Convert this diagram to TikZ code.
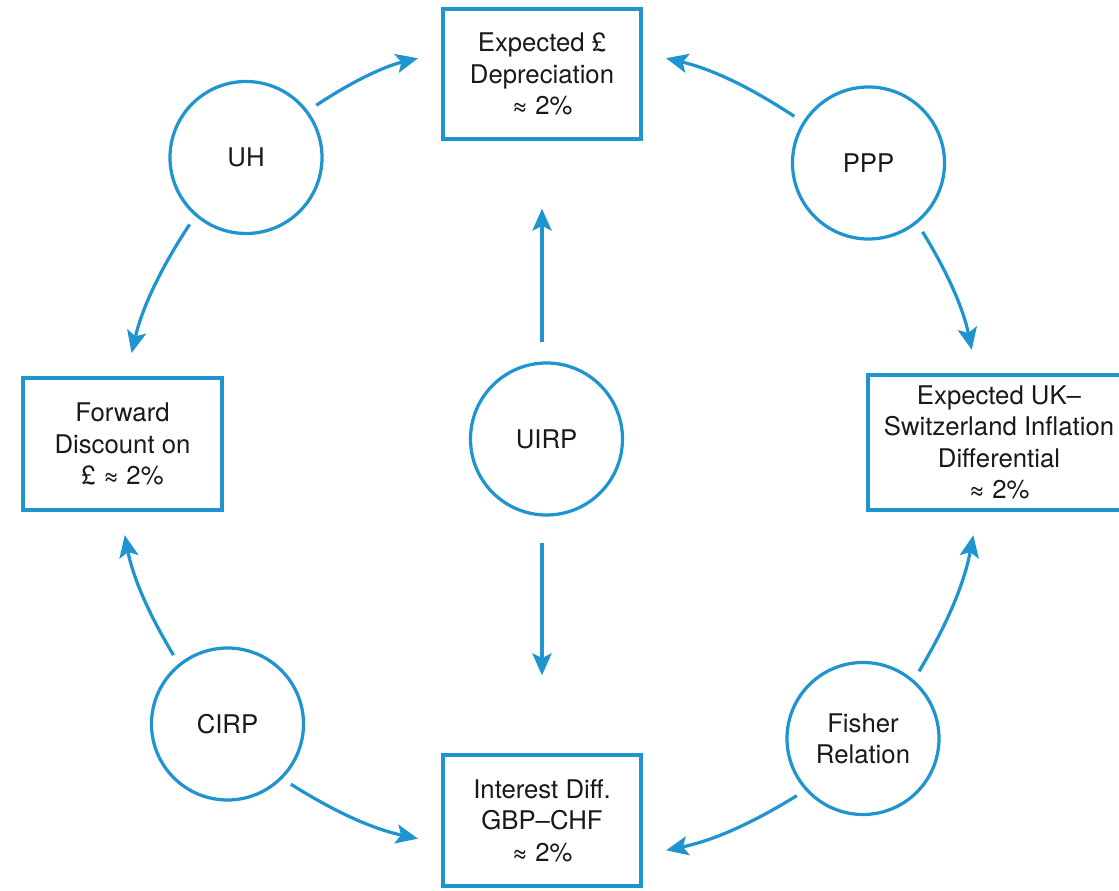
\documentclass[tikz,border=0pt]{standalone}
\usepackage{fontspec}
\setmainfont{TeX Gyre Heros}
\usetikzlibrary{arrows.meta}
\definecolor{parityblue}{RGB}{31,148,206}

\begin{document}
\begin{tikzpicture}[
    ring/.style={circle, draw=parityblue, line width=2.3pt, minimum size=3.8cm,
        align=center, inner sep=0pt},
    box/.style={rectangle, draw=parityblue, line width=2.3pt, align=center, inner sep=0pt},
    flow/.style={draw=parityblue, line width=2.3pt,
        -{Stealth[length=0.55cm, width=0.48cm, inset=0.12cm]},
        shorten <=0.25cm, shorten >=0.6cm},
    font=\fontsize{18.3}{22.3}\selectfont, text=black!90]
    \useasboundingbox (0, 0) rectangle (27.975, 22.25);

    % outcomes
    \node [box, minimum width=4.95cm, minimum height=3.25cm] (deprec) at (13.55, 20.4)
        {Expected £\\Depreciation\\≈ 2\%};
    \node [box, minimum width=4.975cm, minimum height=3.3cm] (fwd) at (3.0625, 11.15)
        {Forward\\Discount on\\£ ≈ 2\%};
    \node [box, minimum width=6.55cm, minimum height=3.375cm] (infl) at (24.975, 11.1875)
        {Expected UK–\\Switzerland Inflation\\Differential\\≈ 2\%};
    \node [box, minimum width=4.95cm, minimum height=3.275cm] (intdiff) at (13.55, 1.7375)
        {Interest Diff.\\GBP–CHF\\≈ 2\%};

    % parity conditions
    \foreach \x/\y/\txt/\name in {
        6.15/18.3125/UH/uh,      21.7125/18.175/PPP/ppp,
        5.6875/4.15/CIRP/cirp,   21.575/3.7875/{Fisher\\Relation}/fisher,
        13.6625/11.275/UIRP/uirp} {
        \node [ring] (\name) at (\x, \y) {\txt};
    }

    \draw [flow] (uh.37) to [bend left=10] (deprec.168);
    \draw [flow] (ppp.148) to [bend right=10] (deprec.12);
    \draw [flow] (uh.229) to [bend right=10] (fwd.87);
    \draw [flow] (ppp.309) to [bend left=10] (infl.108);
    \draw [flow] (cirp.129) to [bend left=10] (fwd.268);
    \draw [flow] (fisher.49) to [bend right=10] (infl.253);
    \draw [flow] (cirp.315) to [bend right=10] (intdiff.193);
    \draw [flow] (fisher.222) to [bend left=10] (intdiff.341);

    \draw [flow, shorten <=0.475cm, shorten >=1.7cm] (uirp.north -| deprec) -- (deprec.south);
    \draw [flow, shorten <=0.65cm, shorten >=1.95cm] (uirp.south -| intdiff) -- (intdiff.north);
\end{tikzpicture}
\end{document}
